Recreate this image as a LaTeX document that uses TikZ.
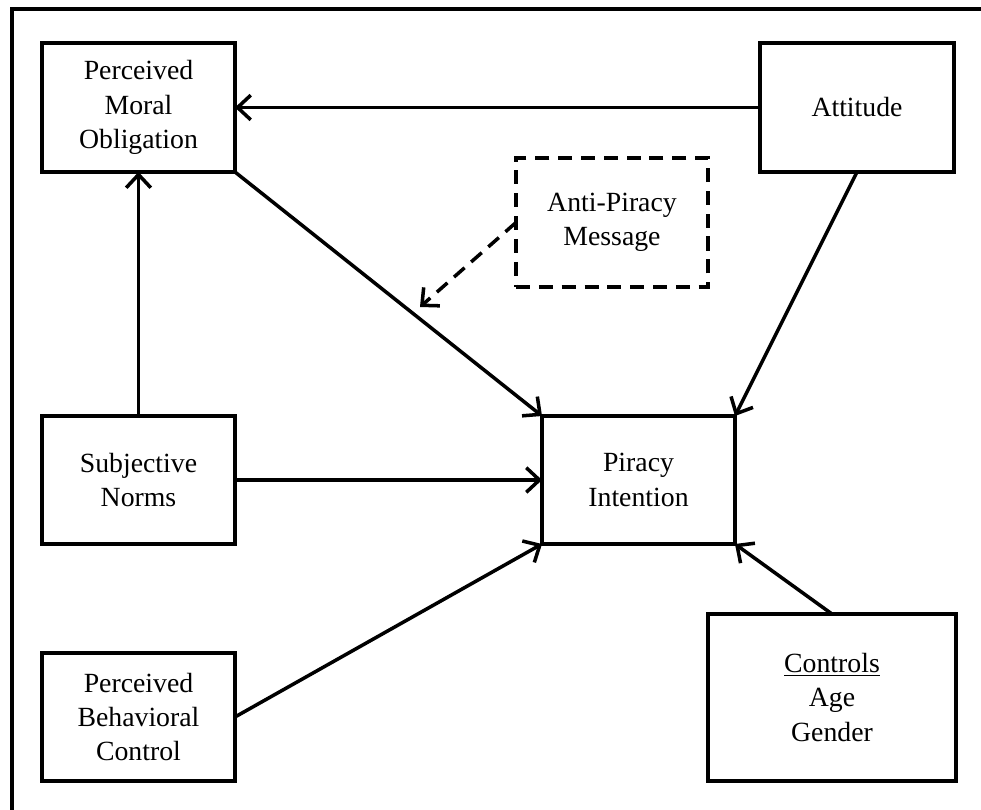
\documentclass[tikz,border=0pt]{standalone}
\usepackage{fontspec}
\setmainfont{Liberation Serif}
\usetikzlibrary{arrows.meta}

\tikzset{
  box/.style={draw, line width=2.1pt, inner sep=0pt, outer sep=0pt, align=center,
              font=\fontsize{15.8}{19.6}\selectfont},
  dashbox/.style={box, dash pattern=on 8pt off 5pt},
  link/.style={line width=2pt, -{Straight Barb[length=7.5pt, width=14pt, line width=2pt]}},
  dashlink/.style={link, dash pattern=on 8pt off 5pt},
  frame/.style={line width=2.2pt}
}

\begin{document}
\begin{tikzpicture}[x=0.02cm, y=-0.02cm]
  \useasboundingbox (0,0) rectangle (981,810);
  \clip (0,0) rectangle (981,810);
  \fill[white] (0,0) rectangle (981,810);

  % surrounding frame (right and bottom edges lie outside the page)
  \draw[frame] (12,9) rectangle (1010,840);

  % constructs
  \node[box, minimum width=3.86cm, minimum height=2.58cm] (pmo) at (138.5,107.5)
    {Perceived\\Moral\\Obligation};
  \node[box, minimum width=3.88cm, minimum height=2.58cm] (att) at (857,107.5)
    {Attitude};
  \node[dashbox, minimum width=3.84cm, minimum height=2.58cm] (apm) at (612,222.5)
    {Anti-Piracy\\Message};
  \node[box, minimum width=3.86cm, minimum height=2.56cm] (sn) at (138.5,480)
    {Subjective\\Norms};
  \node[box, minimum width=3.86cm, minimum height=2.56cm] (pi) at (638.5,480)
    {Piracy\\Intention};
  \node[box, minimum width=3.86cm, minimum height=2.56cm] (pbc) at (138.5,717)
    {Perceived\\Behavioral\\Control};
  \node[box, minimum width=4.96cm, minimum height=3.34cm] (ctl) at (832,697.5)
    {\underline{Controls}\\Age\\Gender};

  \coordinate (mod) at (420,307);

  % paths
  \draw[link] (att.west) -- (pmo.east);
  \draw[link] (sn.north) -- (pmo.south);
  \draw[link] (pmo.south east) -- (pi.north west);
  \draw[link] (att.south) -- (pi.north east);
  \draw[link] (sn.east) -- (pi.west);
  \draw[link] (pbc.east) -- (pi.south west);
  \draw[link] (ctl.north) -- (pi.south east);
  \draw[dashlink] (apm.west) -- (mod);
\end{tikzpicture}
\end{document}
